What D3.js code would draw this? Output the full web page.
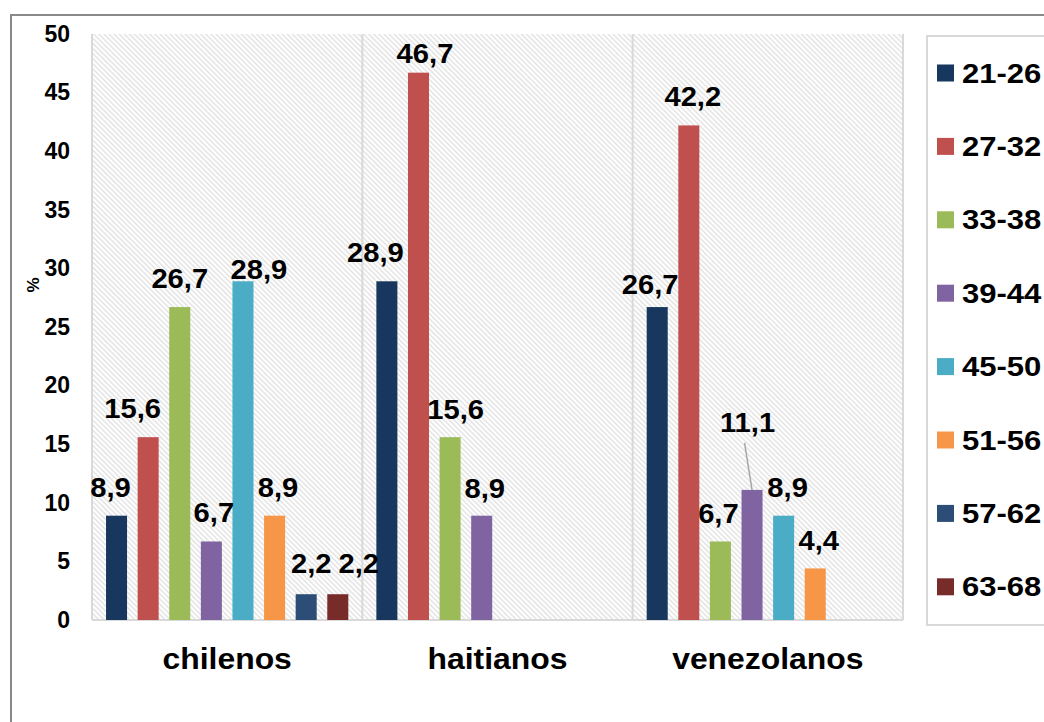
<!DOCTYPE html>
<html>
<head>
<meta charset="utf-8">
<script src="https://cdn.jsdelivr.net/npm/d3@7"></script>
<style>
  body { margin: 0; background: #fff; }
  svg { display: block; font-family: "Liberation Sans", Arial, sans-serif; }
</style>
</head>
<body>
<div id="chart"></div>
<script>
// data
const categories = ["chilenos", "haitianos", "venezolanos"];
const ageGroups = ["21-26", "27-32", "33-38", "39-44", "45-50", "51-56", "57-62", "63-68"];
const groupColors = ["#17375E", "#C0504D", "#9BBB59", "#8064A2", "#4BACC6", "#F79646", "#2C4D75", "#772C2A"];
const chilenos = [8.9, 15.6, 26.7, 6.7, 28.9, 8.9, 2.2, 2.2];
const haitianos = [28.9, 46.7, 15.6, 8.9, 0, 0, 0, 0];
const venezolanos = [26.7, 42.2, 6.7, 11.1, 8.9, 4.4, 0, 0];
const yTicks = [0, 5, 10, 15, 20, 25, 30, 35, 40, 45, 50];

// hand placed labels in the original (dx, dy from default spot)
const labelNudge = {
  chilenos: [[-6, 0], [-15.5, 0], [0, 0], [2.5, 0], [16, 17], [3.5, 0], [5, -2], [21, -2]],
  haitianos: [[-11.5, 0], [6.5, 9], [5.5, 1], [3, 1], [0, 0], [0, 0], [0, 0], [0, 0]],
  venezolanos: [[-7, 6], [4, 0], [-2, 1], [-4.5, -39], [4, 0], [3.5, 1], [0, 0], [0, 0]]
};
const leaderLines = { venezolanos: [3] };

const seriesByCat = { chilenos, haitianos, venezolanos };

const width = 1044, height = 722;
const plot = { left: 92, right: 903, top: 34, bottom: 620 };

const svg = d3.select("#chart").append("svg")
  .attr("width", width)
  .attr("height", height);

// hatch fill
const defs = svg.append("defs");
const pat = defs.append("pattern")
  .attr("id", "hatch")
  .attr("patternUnits", "userSpaceOnUse")
  .attr("width", 8)
  .attr("height", 3.6)
  .attr("patternTransform", "rotate(45)");
pat.append("rect").attr("width", 8).attr("height", 3.6).attr("fill", "#fff");
pat.append("line")
  .attr("x1", 0).attr("x2", 8)
  .attr("y1", 1).attr("y2", 1)
  .attr("stroke", "#d6d6d6")
  .attr("stroke-width", 1);

// outer chart frame (runs off the right and bottom)
svg.append("rect")
  .attr("x", 11).attr("y", 15)
  .attr("width", 1100).attr("height", 800)
  .attr("fill", "none")
  .attr("stroke", "#898989")
  .attr("stroke-width", 2);

const x0 = d3.scaleBand()
  .domain(categories)
  .range([plot.left, plot.right]);

const x1 = d3.scaleBand()
  .domain(ageGroups)
  .range([0, x0.bandwidth()])
  .paddingInner(0.335)
  .paddingOuter(0.444);

const y = d3.scaleLinear()
  .domain([0, 50])
  .range([plot.bottom, plot.top]);

const color = d3.scaleOrdinal().domain(ageGroups).range(groupColors);

svg.append("rect")
  .attr("x", plot.left).attr("y", plot.top)
  .attr("width", plot.right - plot.left)
  .attr("height", plot.bottom - plot.top)
  .attr("fill", "url(#hatch)");

// plot edges and category separators
const edges = [plot.left].concat(categories.slice(1).map(c => x0(c)), [plot.right]);
svg.selectAll("line.sep")
  .data(edges)
  .enter().append("line")
  .attr("class", "sep")
  .attr("x1", d => d).attr("x2", d => d)
  .attr("y1", plot.top).attr("y2", plot.bottom)
  .attr("stroke", "#d9d9d9")
  .attr("stroke-width", 2);

svg.append("line")
  .attr("x1", plot.left).attr("x2", plot.right)
  .attr("y1", plot.bottom).attr("y2", plot.bottom)
  .attr("stroke", "#d9d9d9")
  .attr("stroke-width", 2);

// y axis
const yAxis = svg.append("g")
  .attr("transform", "translate(" + plot.left + ",0)")
  .call(d3.axisLeft(y).tickValues(yTicks).tickSize(0).tickPadding(22).tickFormat(d3.format("d")));
yAxis.select(".domain").remove();
yAxis.selectAll("text")
  .style("font-size", "23px")
  .style("font-weight", "bold")
  .style("font-family", "'Liberation Sans', Arial, sans-serif")
  .attr("fill", "#000");

svg.append("text")
  .attr("transform", "translate(39,285) rotate(-90)")
  .attr("text-anchor", "middle")
  .style("font-size", "17px")
  .style("font-weight", "bold")
  .text("%");

// bars
const rows = [];
categories.forEach(cat => {
  seriesByCat[cat].forEach((v, i) => {
    if (v > 0) rows.push({ cat: cat, group: ageGroups[i], idx: i, value: v });
  });
});

svg.append("g").selectAll("rect")
  .data(rows)
  .enter().append("rect")
  .attr("x", d => x0(d.cat) + x1(d.group))
  .attr("y", d => y(d.value))
  .attr("width", x1.bandwidth())
  .attr("height", d => y(0) - y(d.value))
  .attr("fill", d => color(d.group));

// value labels
const fmt = v => d3.format(".1f")(v).replace(".", ",");
function labelPos(d) {
  const n = labelNudge[d.cat][d.idx];
  return [x0(d.cat) + x1(d.group) + x1.bandwidth() / 2 + n[0], y(d.value) - 19 + n[1]];
}

const leaders = rows.filter(d => (leaderLines[d.cat] || []).includes(d.idx));
svg.selectAll("line.leader")
  .data(leaders)
  .enter().append("line")
  .attr("class", "leader")
  .attr("x1", d => labelPos(d)[0] - 3)
  .attr("y1", d => labelPos(d)[1] + 11)
  .attr("x2", d => x0(d.cat) + x1(d.group) + x1.bandwidth() / 2)
  .attr("y2", d => y(d.value))
  .attr("stroke", "#a6a6a6")
  .attr("stroke-width", 1.5);

svg.append("g").selectAll("text")
  .data(rows)
  .enter().append("text")
  .attr("transform", d => { const p = labelPos(d); return "translate(" + p[0] + "," + p[1] + ") scale(1.08,1)"; })
  .attr("text-anchor", "middle")
  .style("font-size", "27px")
  .style("font-weight", "bold")
  .text(d => fmt(d.value));

// category labels
svg.append("g").selectAll("text")
  .data(categories)
  .enter().append("text")
  .attr("transform", d => "translate(" + (x0(d) + x0.bandwidth() / 2) + ",669) scale(1.1,1)")
  .attr("text-anchor", "middle")
  .style("font-size", "29px")
  .style("font-weight", "bold")
  .text(d => d);

// legend
svg.append("rect")
  .attr("x", 927).attr("y", 36)
  .attr("width", 200).attr("height", 589)
  .attr("fill", "#fff")
  .attr("stroke", "#d9d9d9")
  .attr("stroke-width", 2);

const legend = svg.append("g").selectAll("g")
  .data(ageGroups)
  .enter().append("g")
  .attr("transform", (d, i) => "translate(937," + (73 + i * 73.4) + ")");

legend.append("rect")
  .attr("x", 0).attr("y", -8.5)
  .attr("width", 17).attr("height", 17)
  .attr("fill", d => color(d));

legend.append("text")
  .attr("transform", "translate(25,9.5) scale(1.15,1)")
  .style("font-size", "27px")
  .style("font-weight", "bold")
  .text(d => d);
</script>
</body>
</html>
